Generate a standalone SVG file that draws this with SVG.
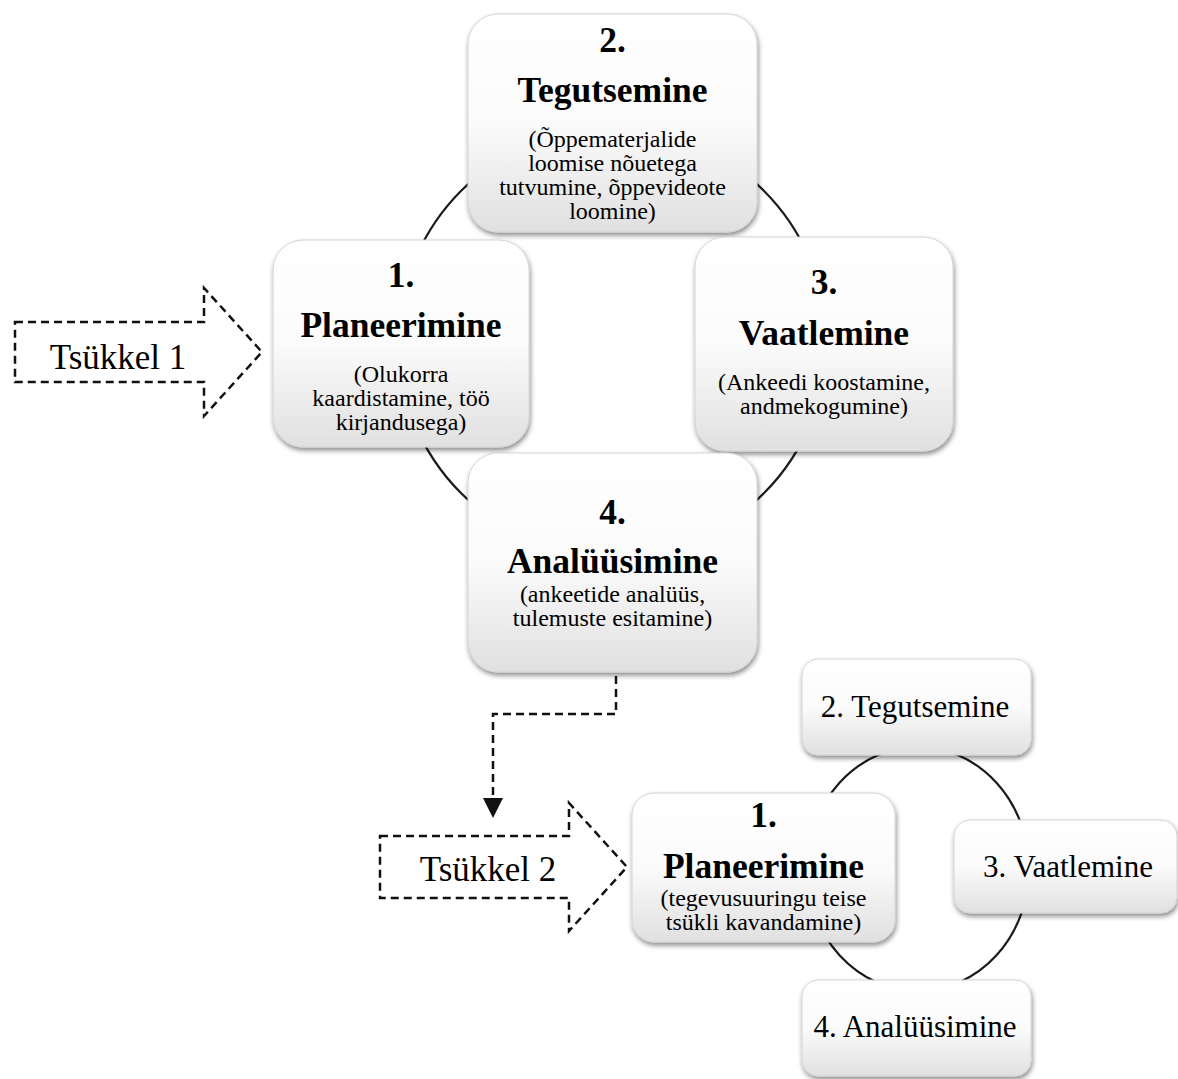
<svg xmlns="http://www.w3.org/2000/svg" width="1178" height="1079" viewBox="0 0 1178 1079">
  <style>
    text { font-family: "Liberation Serif", "Times New Roman", serif; fill: #000; text-anchor: middle; }
    .h { font-weight: bold; font-size: 35.5px; }
    .s { font-size: 24px; }
    .m { font-size: 31px; }
    .t { font-size: 35px; }
    .box { fill: url(#g); stroke: #d4d4d4; stroke-width: 1; filter: url(#sh); }
    .ring { fill: none; stroke: #1a1a1a; stroke-width: 2.2; }
    .dash { fill: none; stroke: #111; stroke-width: 2.5; stroke-dasharray: 8 5; }
  </style>
  <defs>
    <linearGradient id="g" x1="0" y1="0" x2="0" y2="1">
      <stop offset="0" stop-color="#ffffff"/>
      <stop offset="0.5" stop-color="#fbfbfb"/>
      <stop offset="1" stop-color="#e0e0e0"/>
    </linearGradient>
    <filter id="sh" x="-10%" y="-10%" width="120%" height="125%">
      <feDropShadow dx="1" dy="3" stdDeviation="2.5" flood-color="#000" flood-opacity="0.45"/>
    </filter>
    <marker id="ah" markerUnits="userSpaceOnUse" markerWidth="20" markerHeight="20" viewBox="0 0 20 20" refX="0" refY="10" orient="auto">
      <path d="M0,0 L20,10 L0,20 Z" fill="#111"/>
    </marker>
  </defs>
  <rect width="1178" height="1079" fill="#fff"/>

  <g id="connectors">
    <circle class="ring" cx="612.5" cy="342" r="214"/>
    <ellipse class="ring" cx="918" cy="869" rx="111" ry="122"/>
    <path class="dash" d="M616,676 V714 H493 V798" marker-end="url(#ah)"/>
  </g>

  <g id="tsukkel1">
    <path class="dash" d="M15,322 H204 V288 L262,352 L204,416 V382 H15 Z"/>
    <text class="t" x="118" y="369">Tsükkel 1</text>
  </g>

  <g id="tsukkel2">
    <path class="dash" d="M380,836 H569 V803 L627,867 L569,931 V898 H380 Z"/>
    <text class="t" x="488" y="881">Tsükkel 2</text>
  </g>

  <g id="n2">
    <rect class="box" x="468" y="14" width="289" height="218" rx="30"/>
    <text class="h" x="612.5" y="52">2.</text>
    <text class="h" x="612.5" y="102">Tegutsemine</text>
    <text class="s" x="612.5" y="147">(Õppematerjalide</text>
    <text class="s" x="612.5" y="171">loomise nõuetega</text>
    <text class="s" x="612.5" y="195">tutvumine, õppevideote</text>
    <text class="s" x="612.5" y="219">loomine)</text>
  </g>

  <g id="n1">
    <rect class="box" x="273" y="240" width="256" height="207" rx="30"/>
    <text class="h" x="401" y="287">1.</text>
    <text class="h" x="401" y="337">Planeerimine</text>
    <text class="s" x="401" y="382">(Olukorra</text>
    <text class="s" x="401" y="406">kaardistamine, töö</text>
    <text class="s" x="401" y="430">kirjandusega)</text>
  </g>

  <g id="n3">
    <rect class="box" x="695" y="237" width="258" height="214" rx="30"/>
    <text class="h" x="824" y="294">3.</text>
    <text class="h" x="824" y="345">Vaatlemine</text>
    <text class="s" x="824" y="390">(Ankeedi koostamine,</text>
    <text class="s" x="824" y="414">andmekogumine)</text>
  </g>

  <g id="n4">
    <rect class="box" x="468" y="453" width="289" height="219" rx="30"/>
    <text class="h" x="612.5" y="524">4.</text>
    <text class="h" x="612.5" y="573">Analüüsimine</text>
    <text class="s" x="612.5" y="602">(ankeetide analüüs,</text>
    <text class="s" x="612.5" y="626">tulemuste esitamine)</text>
  </g>

  <g id="m2">
    <rect class="box" x="802" y="659" width="229" height="96" rx="16"/>
    <text class="m" x="915" y="717">2. Tegutsemine</text>
  </g>

  <g id="m1">
    <rect class="box" x="632" y="793" width="263" height="149" rx="22"/>
    <text class="h" x="763.5" y="827">1.</text>
    <text class="h" x="763.5" y="878">Planeerimine</text>
    <text class="s" x="763.5" y="906">(tegevusuuringu teise</text>
    <text class="s" x="763.5" y="930">tsükli kavandamine)</text>
  </g>

  <g id="m3">
    <rect class="box" x="954" y="820" width="223" height="93" rx="16"/>
    <text class="m" x="1068" y="877">3. Vaatlemine</text>
  </g>

  <g id="m4">
    <rect class="box" x="802" y="980" width="229" height="96" rx="16"/>
    <text class="m" x="915" y="1037">4. Analüüsimine</text>
  </g>
</svg>
